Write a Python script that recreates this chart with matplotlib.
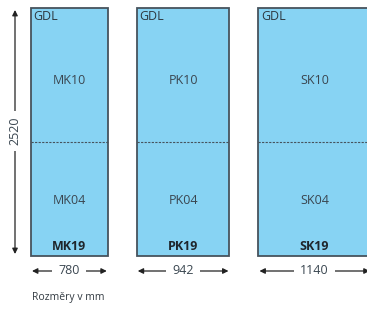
import matplotlib
matplotlib.use("Agg")
import matplotlib.pyplot as plt
from matplotlib.patches import Rectangle

# data (mm)
models = ["MK19", "PK19", "SK19"]
top_labels = ["MK10", "PK10", "SK10"]
bottom_labels = ["MK04", "PK04", "SK04"]
widths = [780, 942, 1140]
height = 2520
lower_height = 1158
header = "GDL"
unit_note = "Rozměry v mm"

plt.rcParams['font.family'] = ['Open Sans', 'DejaVu Sans']

W, H = 367, 311
s = 248 / 2520.0  # px per mm
fig = plt.figure(figsize=(W / 100, H / 100), dpi=100)
ax = fig.add_axes([0, 0, 1, 1])
ax.set_xlim(0, W / s)
ax.set_ylim(H / s, 0)
ax.axis('off')

fill = '#87d3f3'
edge = '#46535d'
txt = '#3a4650'

x0 = 31 / s
gap = 29 / s
top = 8 / s
bottom = top + height
split = bottom - lower_height

x = x0
for m, tl, bl, w in zip(models, top_labels, bottom_labels, widths):
    ax.add_patch(Rectangle((x, top), w, height, facecolor=fill, edgecolor=edge, lw=1.3))
    ax.plot([x, x + w], [split, split], ls=(0, (2, 1.2)), color=edge, lw=0.8)
    ax.text(x + 25, top + 90, header, ha='left', va='center', fontsize=9, color='#2d3840')
    ax.text(x + w / 2, (top + split) / 2 + 60, tl, ha='center', va='center', fontsize=9, color=txt)
    ax.text(x + w / 2, (split + bottom) / 2 + 20, bl, ha='center', va='center', fontsize=9, color=txt)
    ax.text(x + w / 2, bottom - 100, m, ha='center', va='center', fontsize=9, color='#1f262c', fontweight='bold')
    # width dimension
    yd = 271 / s
    ax.annotate('', xy=(x + 10, yd), xytext=(x + w - 10, yd),
                arrowprops=dict(arrowstyle='<|-|>', color='#222222', lw=0.9, mutation_scale=8, shrinkA=0, shrinkB=0))
    ax.text(x + w / 2, yd, str(w), ha='center', va='center', fontsize=9, color=txt,
            bbox=dict(facecolor='white', edgecolor='none', pad=4.5))
    x += w + gap

# height dimension
xv = 15 / s
ax.annotate('', xy=(xv, top + 20), xytext=(xv, bottom - 20),
            arrowprops=dict(arrowstyle='<|-|>', color='#222222', lw=0.9, mutation_scale=8, shrinkA=0, shrinkB=0))
ax.text(xv, 131 / s, str(height), ha='center', va='center', rotation=90, fontsize=9, color=txt,
        bbox=dict(facecolor='white', edgecolor='none', pad=4))

ax.text(32 / s, 298 / s, unit_note, ha='left', va='center', fontsize=7.5, color='#333b42')

fig.savefig('out.png', dpi=100)
